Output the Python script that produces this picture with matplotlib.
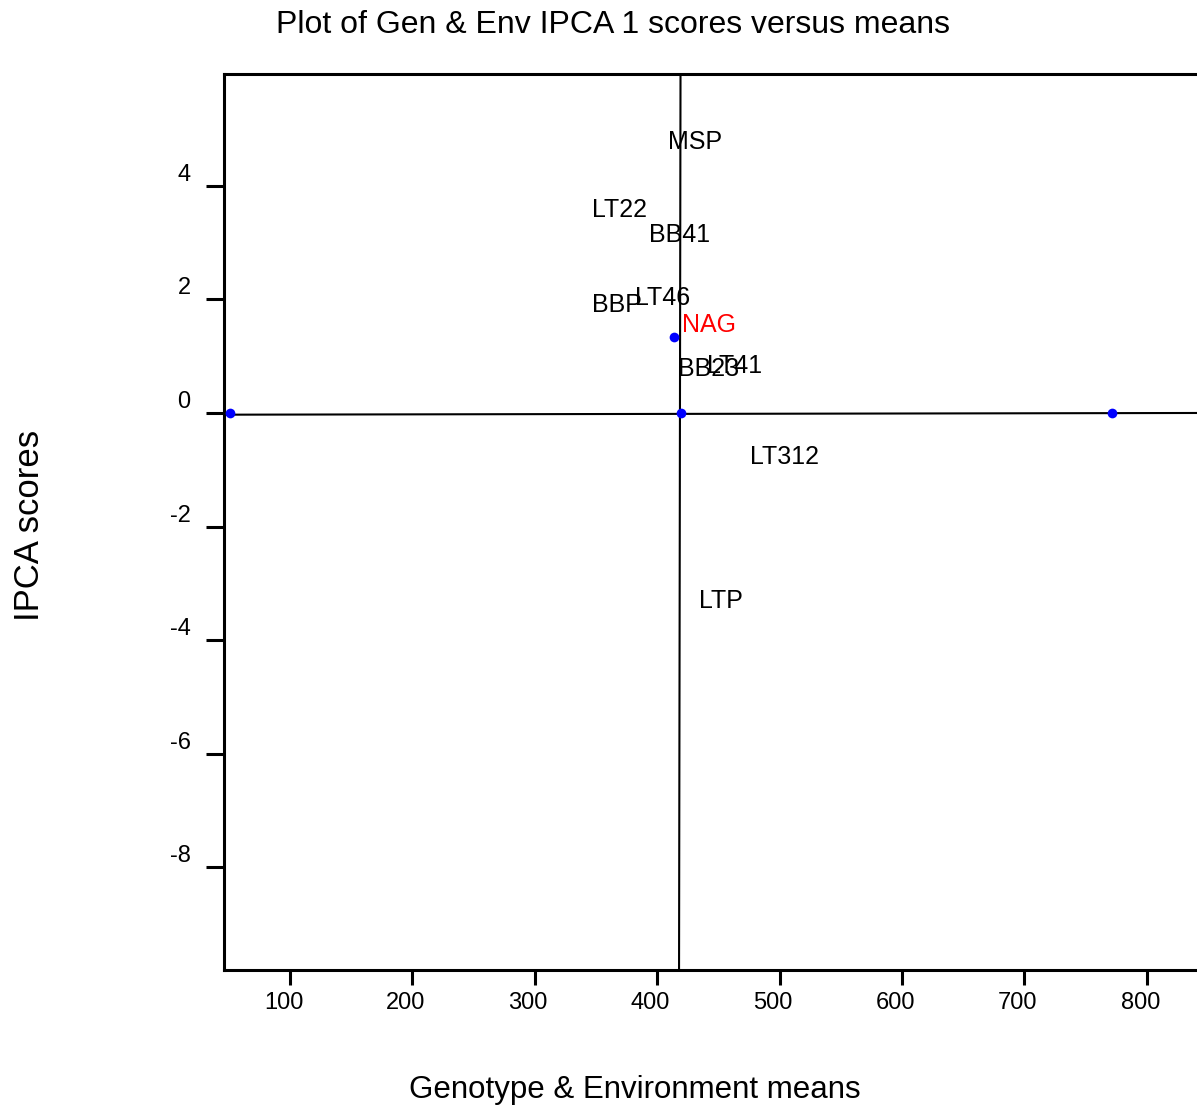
import matplotlib
matplotlib.use("Agg")
import matplotlib.pyplot as plt
import matplotlib.transforms as mtransforms

plt.rcParams['font.family'] = ['Liberation Sans', 'DejaVu Sans']

# Genotypes: mean yield vs IPCA 1 score
gen_names = ["MSP", "LT22", "BB41", "BBP", "LT46", "NAG", "BB23", "LT41", "LT312", "LTP"]
gen_means = [402.2, 340.5, 386.7, 340.5, 375.0, 414.0, 410.7, 434.4, 469.0, 427.3]
gen_ipca = [4.57, 3.36, 2.93, 1.69, 1.81, 1.34, 0.56, 0.62, -0.98, -3.52]
highlight = "NAG"

# Environments: mean vs IPCA 1 score
env_means = [51.0, 419.5, 771.6]
env_ipca = [0.0, 0.0, 0.0]

# Reference lines (grand mean and zero score)
vline_x = [419.1, 417.9]
vline_y = [5.97, -9.81]
hline_x = [46.1, 841.1]
hline_y = [-0.03, 0.0]

xticks = [100, 200, 300, 400, 500, 600, 700, 800]
yticks = [4, 2, 0, -2, -4, -6, -8]
xlim = (46.1, 841.1)
ylim = (-9.81, 5.97)

W, H = 1197, 1113
fig = plt.figure(figsize=(W / 100, H / 100), dpi=100)
ax = fig.add_axes([224 / W, (H - 970) / H, (W - 224) / W, (970 - 74) / H])

ax.plot(vline_x, vline_y, color="black", lw=1.5, zorder=2)
ax.plot(hline_x, hline_y, color="black", lw=1.5, zorder=2)

ax.plot(env_means, env_ipca, "o", color="#0000ff", ms=7, mec="none", zorder=3)

for name, gx, gy in zip(gen_names, gen_means, gen_ipca):
    if name == highlight:
        ax.plot(gx, gy, "o", color="#0000ff", ms=7, mec="none", zorder=3)
        col = "red"
    else:
        col = "black"
    ax.annotate(name, (gx, gy), xytext=(5.8, 8.6), textcoords="offset points",
                ha="left", va="center", fontsize=18, color=col, zorder=4)

ax.set_xlim(*xlim)
ax.set_ylim(*ylim)
ax.set_xticks(xticks)
ax.set_yticks(yticks)
ax.set_xticklabels([str(v) for v in xticks], fontsize=17)
ax.set_yticklabels([str(v) for v in yticks], fontsize=17)

ax.tick_params(axis="x", direction="out", length=11, width=2.2, pad=5)
ax.tick_params(axis="y", direction="out", length=13, width=2.2, pad=11)
for side in ("left", "top", "bottom"):
    ax.spines[side].set_linewidth(2.2)
ax.spines["right"].set_visible(False)

# x labels sit slightly left of their ticks, y labels just above them
shift = mtransforms.ScaledTranslation(-6.5 / 100, 0, fig.dpi_scale_trans)
for tick in ax.xaxis.get_major_ticks():
    tick.label1.set_transform(tick.label1.get_transform() + shift)
for lab in ax.get_yticklabels():
    lab.set_verticalalignment("bottom")

fig.text(613 / W, 1 - 25 / H, "Plot of Gen & Env IPCA 1 scores versus means",
         ha="center", va="center", fontsize=23)
fig.text(635 / W, 1 - 1090 / H, "Genotype & Environment means",
         ha="center", va="center", fontsize=22.5)
fig.text(30 / W, 1 - 525 / H, "IPCA scores", rotation=90,
         ha="center", va="center", fontsize=25)

fig.savefig("out.png", dpi=100)
